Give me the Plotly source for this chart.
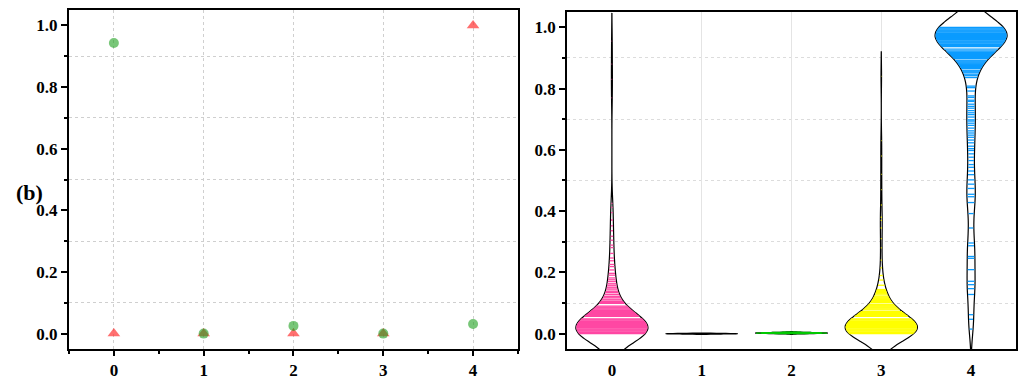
import numpy as np
import plotly.graph_objects as go

# ---------------- data ----------------
categories = [0, 1, 2, 3, 4]
circle_values = [0.943, 0.0, 0.025, 0.0, 0.031]
triangle_values = [0.0, 0.0, 0.0, 0.0, 1.0]

# right panel: observed values (distinct value list + how many times each occurs)
g0_vals = [0.000, 0.003, 0.006, 0.009, 0.012, 0.015, 0.018, 0.021, 0.024, 0.027, 0.030, 0.033,
           0.036, 0.039, 0.042, 0.045, 0.048, 0.057, 0.060, 0.063, 0.066, 0.069, 0.072, 0.075,
           0.078, 0.081, 0.084, 0.087, 0.090, 0.099, 0.102, 0.105,
           0.110, 0.113, 0.119, 0.122, 0.128, 0.134, 0.137, 0.143, 0.149, 0.152, 0.158, 0.163,
           0.170, 0.176, 0.182, 0.191, 0.197,
           0.208, 0.219, 0.226, 0.238, 0.247, 0.262, 0.281, 0.289,
           0.305, 0.318, 0.336, 0.352, 0.371, 0.395, 0.412, 0.425,
           0.770, 0.830, 0.880, 0.955]
g0_counts = [25, 14, 13, 12, 11, 10, 9, 8, 7, 7, 6, 5,
             5, 4, 4, 3, 3, 2, 2, 2, 2, 2, 1, 1,
             1, 1, 1, 1, 1, 1, 1, 1,
             1, 1, 1, 1, 1, 1, 1, 1, 1, 1, 1, 1,
             1, 1, 1, 1, 1,
             1, 1, 1, 1, 1, 1, 1, 1,
             1, 1, 1, 1, 1, 1, 1, 1,
             1, 1, 1, 1]

g1_vals = [0.0]
g1_counts = [60]

g2_vals = [0.000, 0.001, 0.002, 0.003, 0.004, 0.005]
g2_counts = [10, 20, 25, 20, 10, 5]

g3_vals = [0.000, 0.003, 0.006, 0.009, 0.012, 0.015, 0.018, 0.021, 0.024, 0.027, 0.030, 0.033,
           0.036, 0.039, 0.042, 0.045, 0.048, 0.057, 0.060, 0.063, 0.066, 0.069, 0.072, 0.078,
           0.081, 0.084, 0.087, 0.090, 0.093, 0.096, 0.102, 0.105, 0.108, 0.111, 0.114, 0.117,
           0.120, 0.123, 0.129, 0.132, 0.135, 0.138, 0.141, 0.144,
           0.158, 0.175, 0.190, 0.215, 0.240, 0.280, 0.310, 0.345, 0.370, 0.380, 0.420, 0.470,
           0.520, 0.580, 0.630, 0.840]
g3_counts = [20, 14, 13, 12, 11, 10, 9, 8, 8, 7, 6, 6,
             5, 5, 4, 4, 3, 3, 3, 2, 2, 2, 2, 2,
             1, 1, 1, 1, 1, 1, 1, 1, 1, 1, 1, 1,
             1, 1, 1, 1, 1, 1, 1, 1,
             1, 1, 1, 1, 1, 1, 1, 1, 1, 1, 1, 1,
             1, 1, 1, 1]

g4_vals = [1.000, 0.997, 0.994, 0.991, 0.988, 0.985, 0.982, 0.979, 0.976, 0.973, 0.970, 0.967,
           0.964, 0.961, 0.958, 0.955, 0.952, 0.949, 0.946, 0.943, 0.940, 0.937,
           0.929, 0.923, 0.920, 0.917, 0.914, 0.911, 0.908, 0.905, 0.902, 0.899, 0.893, 0.890,
           0.887, 0.884, 0.881, 0.878, 0.875, 0.872, 0.869, 0.866, 0.860, 0.857, 0.854, 0.851,
           0.845, 0.842, 0.836, 0.808, 0.803,
           0.792, 0.776, 0.771, 0.762, 0.758, 0.749, 0.742, 0.736, 0.728, 0.721, 0.715, 0.707,
           0.698, 0.694, 0.687, 0.680, 0.671, 0.662, 0.655, 0.648, 0.641, 0.632, 0.623, 0.612,
           0.604, 0.598, 0.587, 0.576, 0.565, 0.552, 0.543, 0.531, 0.519, 0.502, 0.488, 0.474,
           0.455, 0.447, 0.428, 0.392, 0.345, 0.296, 0.287, 0.252, 0.246, 0.209, 0.171, 0.160,
           0.147, 0.128, 0.062, 0.047, 0.015]
g4_counts = [30, 7, 7, 7, 7, 7, 7, 7, 6, 6, 6, 6,
             5, 5, 5, 4, 4, 4, 3, 3, 3, 2,
             2, 2, 2, 2, 1, 1, 1, 1, 1, 1, 1, 1,
             1, 1, 1, 1, 1, 1, 1, 1, 1, 1, 1, 1,
             1, 1, 1, 1, 1,
             1, 1, 1, 1, 1, 1, 1, 1, 1, 1, 1, 1,
             1, 1, 1, 1, 1, 1, 1, 1, 1, 1, 1, 1,
             1, 1, 1, 1, 1, 1, 1, 1, 1, 2, 2, 2,
             3, 3, 3, 3, 3, 3, 3, 3, 3, 3, 3, 3,
             3, 3, 3, 3, 3]

groups = [
    dict(vals=g0_vals, counts=g0_counts, bw=0.045, color="#ff47a3"),
    dict(vals=g1_vals, counts=g1_counts, bw=0.001, color=None),
    dict(vals=g2_vals, counts=g2_counts, bw=0.001, color="#00c800"),
    dict(vals=g3_vals, counts=g3_counts, bw=0.040, color="#ffff00"),
    dict(vals=g4_vals, counts=g4_counts, bw=0.050, color="#0a9bff"),
]
VIOLIN_WIDTH = 0.8

FONT = "Liberation Serif"
tickfont = dict(family=FONT, size=17, color="black", weight="bold")
GRID = "#cfcfcf"


def stick_halfwidths(vals, counts, bw, width):
    """Same Gaussian KDE / width scaling that plotly's violin uses."""
    samples = np.repeat(np.asarray(vals, float), counts)
    lo, hi = samples.min() - 2 * bw, samples.max() + 2 * bw
    n = int(np.ceil((hi - lo) / (bw / 3)))
    grid = np.linspace(lo, hi, n + 1)

    def kde(t):
        t = np.atleast_1d(t)[:, None]
        return np.exp(-0.5 * ((t - samples[None, :]) / bw) ** 2).sum(1)

    m = kde(grid).max()
    return samples, (width / 2) * kde(np.asarray(vals, float)) / m


fig = go.Figure()

# ---------------- left panel ----------------
fig.add_trace(go.Scatter(
    x=categories, y=triangle_values, mode="markers",
    marker=dict(symbol="triangle-up", size=11, color="rgba(255,50,50,0.7)", line=dict(width=0)),
    xaxis="x", yaxis="y", hoverinfo="skip"))
fig.add_trace(go.Scatter(
    x=categories, y=circle_values, mode="markers",
    marker=dict(symbol="circle", size=10, color="rgba(30,160,30,0.6)", line=dict(width=0)),
    xaxis="x", yaxis="y", hoverinfo="skip"))

# ---------------- right panel ----------------
for cat, g in zip(categories, groups):
    samples, hw = stick_halfwidths(g["vals"], g["counts"], g["bw"], VIOLIN_WIDTH)
    fig.add_trace(go.Violin(
        x0=cat, y=samples, width=VIOLIN_WIDTH, bandwidth=g["bw"], spanmode="soft",
        scalemode="width", points=False, fillcolor="white",
        line=dict(color="black", width=1.2), xaxis="x2", yaxis="y2", hoverinfo="skip"))
    if g["color"] is None:
        continue
    xs, ys = [], []
    for v, h in zip(g["vals"], hw):
        hd = max(h - 0.006, h * 0.6)
        xs += [cat - hd, cat + hd, None]
        ys += [v, v, None]
    fig.add_trace(go.Scatter(
        x=xs, y=ys, mode="lines", line=dict(color=g["color"], width=1.3),
        xaxis="x2", yaxis="y2", hoverinfo="skip"))

axis_common = dict(zeroline=False, showline=True, linecolor="black", mirror=True,
                   tickfont=tickfont, automargin=False)

fig.update_layout(
    width=1022, height=389, margin=dict(l=0, r=0, t=0, b=0, pad=0),
    paper_bgcolor="white", plot_bgcolor="white", showlegend=False,
    violinmode="overlay",
    xaxis=dict(domain=[0.0675, 0.5068], range=[-0.5, 4.5], anchor="y",
               tick0=0, dtick=1, ticks="outside", ticklen=5, tickwidth=1.5, tickcolor="black",
               linewidth=2,
               showgrid=True, gridcolor=GRID, gridwidth=1, griddash="3px,3px",
               minor=dict(dtick=0.5, tick0=0, ticks="outside", ticklen=3, tickwidth=1.5,
                          tickcolor="black", showgrid=False),
               **axis_common),
    yaxis=dict(domain=[0.1028, 0.9743], range=[-0.05, 1.05], anchor="x",
               tick0=0, dtick=0.2, tickformat=".1f", ticks="outside", ticklen=6, tickwidth=1.5,
               tickcolor="black", linewidth=2, showgrid=False,
               minor=dict(dtick=0.1, tick0=0, ticks="outside", ticklen=3, tickwidth=1.5,
                          tickcolor="black", showgrid=True, gridcolor=GRID, gridwidth=1,
                          griddash="3px,3px"),
               **axis_common),
    xaxis2=dict(domain=[0.5548, 0.9941], range=[-0.5, 4.5], anchor="y2",
                tick0=0, dtick=1, ticks="outside", ticklen=5, tickcolor="rgba(0,0,0,0)",
                linewidth=1.6, showgrid=True, gridcolor="#e4e4e4", gridwidth=1,
                **axis_common),
    yaxis2=dict(domain=[0.1028, 0.9692], range=[-0.05, 1.05], anchor="x2",
                tick0=0, dtick=0.2, tickformat=".1f", ticks="outside", ticklen=6, tickwidth=1.5,
                tickcolor="black", linewidth=1.6, showgrid=False,
                minor=dict(dtick=0.1, tick0=0, ticks="outside", ticklen=3, tickwidth=1.5,
                           tickcolor="black", showgrid=True, gridcolor="#dcdcdc", gridwidth=1,
                           griddash="3px,3px"),
                **axis_common),
    annotations=[dict(text="(b)", x=0.0137, y=0.504, xref="paper", yref="paper",
                      showarrow=False, font=dict(family=FONT, size=22, color="black", weight="bold"))],
)

fig.write_html("out.html", config={"displayModeBar": False},
               post_script="document.body.style.margin='0';document.body.style.overflow='hidden';")
